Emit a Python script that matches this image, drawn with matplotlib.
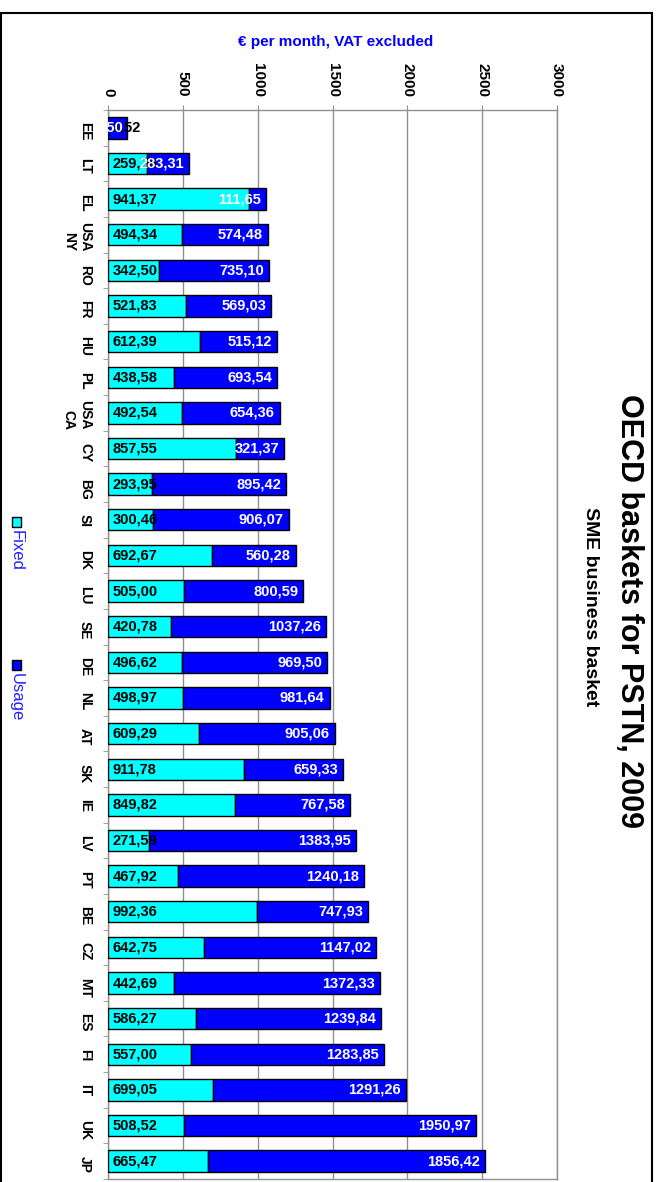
import numpy as np
import matplotlib
matplotlib.use("Agg")
import matplotlib.pyplot as plt
from matplotlib.patches import Rectangle

plt.rcParams['font.family'] = ['Liberation Sans', 'DejaVu Sans']

# Data (EUR per month, VAT excluded)
countries = ['EE', 'LT', 'EL', 'USA\nNY', 'RO', 'FR', 'HU', 'PL', 'USA\nCA', 'CY',
             'BG', 'SI', 'DK', 'LU', 'SE', 'DE', 'NL', 'AT', 'SK', 'IE',
             'LV', 'PT', 'BE', 'CZ', 'MT', 'ES', 'FI', 'IT', 'UK', 'JP']
fixed = [1.52, 259.20, 941.37, 494.34, 342.50, 521.83, 612.39, 438.58, 492.54, 857.55,
         293.95, 300.46, 692.67, 505.00, 420.78, 496.62, 498.97, 609.29, 911.78, 849.82,
         271.59, 467.92, 992.36, 642.75, 442.69, 586.27, 557.00, 699.05, 508.52, 665.47]
usage = [128.50, 283.31, 111.65, 574.48, 735.10, 569.03, 515.12, 693.54, 654.36, 321.37,
         895.42, 906.07, 560.28, 800.59, 1037.26, 969.50, 981.64, 905.06, 659.33, 767.58,
         1383.95, 1240.18, 747.93, 1147.02, 1372.33, 1239.84, 1283.85, 1291.26, 1950.97, 1856.42]
xticks = [0, 500, 1000, 1500, 2000, 2500, 3000]

W, H = 661, 1182
fig = plt.figure(figsize=(W / 100, H / 100), dpi=100)
ax = fig.add_axes([108 / W, 3 / H, (557 - 108) / W, (1179 - 110) / H])

y = np.arange(len(countries))
fixed = np.array(fixed)
usage = np.array(usage)

ax.barh(y, fixed, height=0.6, color='#00FFFF', edgecolor='black', linewidth=1, zorder=3)
ax.barh(y, usage, left=fixed, height=0.6, color='#0000FF', edgecolor='black', linewidth=1, zorder=3)

def fmt(v):
    return f"{v:.2f}".replace('.', ',')

for i in range(len(countries)):
    ax.annotate(fmt(fixed[i]), xy=(0, i), xytext=(3.2, 0), textcoords='offset points',
                ha='left', va='center', fontsize=10.5, fontweight='bold', color='black', zorder=4)
for i in range(len(countries)):
    t = ax.annotate(fmt(usage[i]), xy=(fixed[i] + usage[i], i), xytext=(-3.6, 0), textcoords='offset points',
                    ha='right', va='center', fontsize=10.5, fontweight='bold', color='white', zorder=5)
    # white text must not cover the category labels outside the plot
    t.set_clip_path(ax.patch)

ax.set_xlim(0, 3000)
ax.set_ylim(len(countries) - 0.5, -0.5)

grey = '#909090'
ax.xaxis.grid(True, color=grey, linewidth=1, zorder=0)
ax.set_axisbelow(True)
for s in ax.spines.values():
    s.set_color(grey)
    s.set_linewidth(1)

ax.xaxis.tick_top()
ax.set_xticks(xticks)
ax.set_xticklabels([str(t) for t in xticks], rotation=-90, fontsize=11, fontweight='bold')
ax.tick_params(axis='x', which='major', length=3.6, color=grey, pad=6)

ax.set_yticks(y)
ax.set_yticklabels(countries, rotation=-90, fontsize=10, fontweight='bold')
ax.set_yticks(np.arange(len(countries) + 1) - 0.5, minor=True)
ax.tick_params(axis='y', which='major', length=0, pad=11.5)
ax.tick_params(axis='y', which='minor', length=3.6, color=grey)

# Titles
fig.text(629 / W, 1 - 611 / H, 'OECD baskets for PSTN, 2009', rotation=-90,
         ha='center', va='center', fontsize=22, fontweight='bold')
fig.text(590 / W, 1 - 607 / H, 'SME business basket', rotation=-90,
         ha='center', va='center', fontsize=14, fontweight='bold')
fig.text(336 / W, 1 - 42 / H, '€ per month, VAT excluded', ha='center', va='center',
         fontsize=11, fontweight='bold', color='#0000FF')

# Legend
for label, col, ytop in [('Fixed', '#00FFFF', 517), ('Usage', '#0000FF', 660)]:
    fig.add_artist(Rectangle((12 / W, 1 - (ytop + 10) / H), 9 / W, 10 / H,
                             facecolor=col, edgecolor='black', linewidth=1,
                             transform=fig.transFigure))
    fig.text(16.5 / W, 1 - (ytop + 13) / H, label, rotation=-90, ha='center', va='top',
             fontsize=12, color='#2020FF')

# Outer frame
fig.add_artist(Rectangle((0.5 / W, -0.01), 651 / W, 1.01 - 12.7 / H, fill=False,
                         edgecolor='black', linewidth=1.5, transform=fig.transFigure))

fig.savefig('out.png', dpi=100)
